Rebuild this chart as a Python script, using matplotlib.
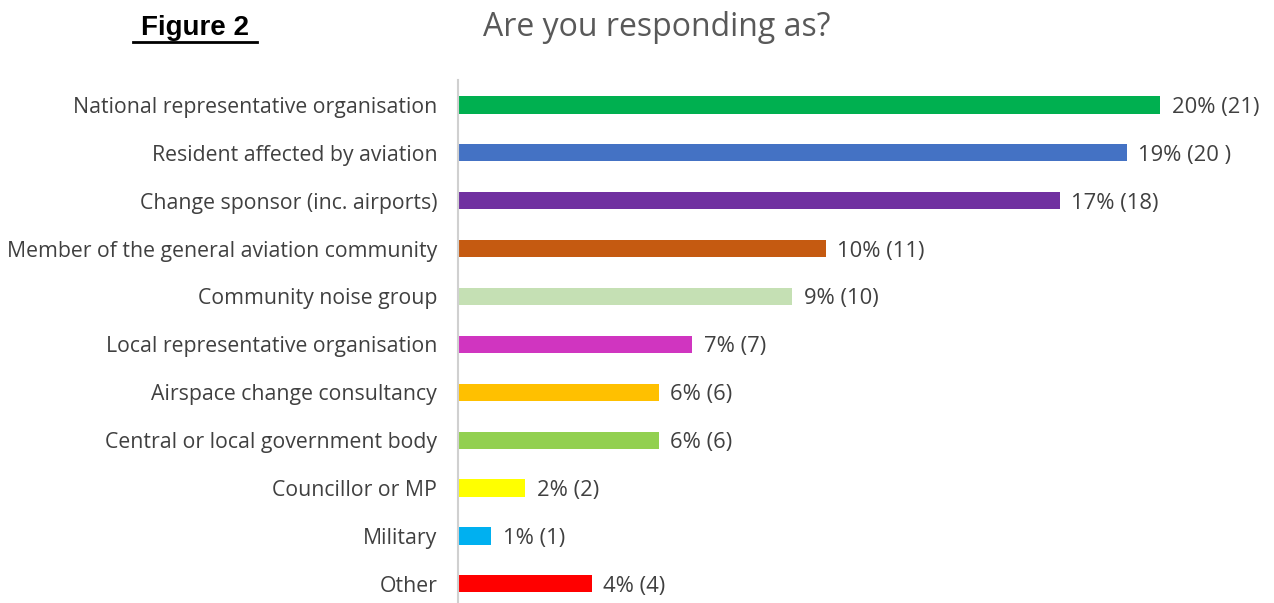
import matplotlib
matplotlib.use("Agg")
import matplotlib.pyplot as plt

# Données
categories = ["National representative organisation", "Resident affected by aviation",
              "Change sponsor (inc. airports)", "Member of the general aviation community",
              "Community noise group", "Local representative organisation",
              "Airspace change consultancy", "Central or local government body",
              "Councillor or MP", "Military", "Other"]
counts = [21, 20, 18, 11, 10, 7, 6, 6, 2, 1, 4]
value_labels = ["20% (21)", "19% (20 )", "17% (18)", "10% (11)", "9% (10)", "7% (7)",
                "6% (6)", "6% (6)", "2% (2)", "1% (1)", "4% (4)"]
colors = ["#00B050", "#4472C4", "#7030A0", "#C55A11", "#C5E0B4", "#D035C0",
          "#FFC000", "#92D050", "#FFFF00", "#00B0F0", "#FF0000"]

plt.rcParams['font.family'] = ['Open Sans', 'DejaVu Sans']

fig = plt.figure(figsize=(12.74, 6.03), dpi=100)
ax = fig.add_axes([458/1274, 0.0, 1 - 458/1274, 1 - 80/603])

y = range(len(categories))
ax.barh(y, counts, height=0.36, color=colors)
for i, (c, lab) in enumerate(zip(counts, value_labels)):
    ax.text(c + 0.35, i, lab, va='center_baseline', ha='left', fontsize=15.8, color='#404040')

ax.set_xlim(0, 816/33.43)
ax.set_ylim(10.4, -0.52)
ax.set_yticks(list(y))
ax.set_yticklabels(categories, fontsize=15.3, color='#404040')
ax.tick_params(axis='y', length=0, pad=15)
ax.set_xticks([])
for s in ['top', 'right', 'bottom']:
    ax.spines[s].set_visible(False)
ax.spines['left'].set_color('#D0D0D0')
ax.spines['left'].set_linewidth(1.5)

fig.text(657/1274, 1 - 27/603, "Are you responding as?", ha='center', va='center',
         fontsize=23, color='#595959')
fig.text(195/1274, 1 - 28/603, "Figure 2", ha='center', va='center', fontsize=20,
         fontweight='bold', family=['Liberation Sans', 'DejaVu Sans'])
fig.add_artist(plt.Line2D([133/1274, 257/1274], [1 - 42/603, 1 - 42/603], color='black', lw=2))

fig.savefig("out.png", dpi=100)
